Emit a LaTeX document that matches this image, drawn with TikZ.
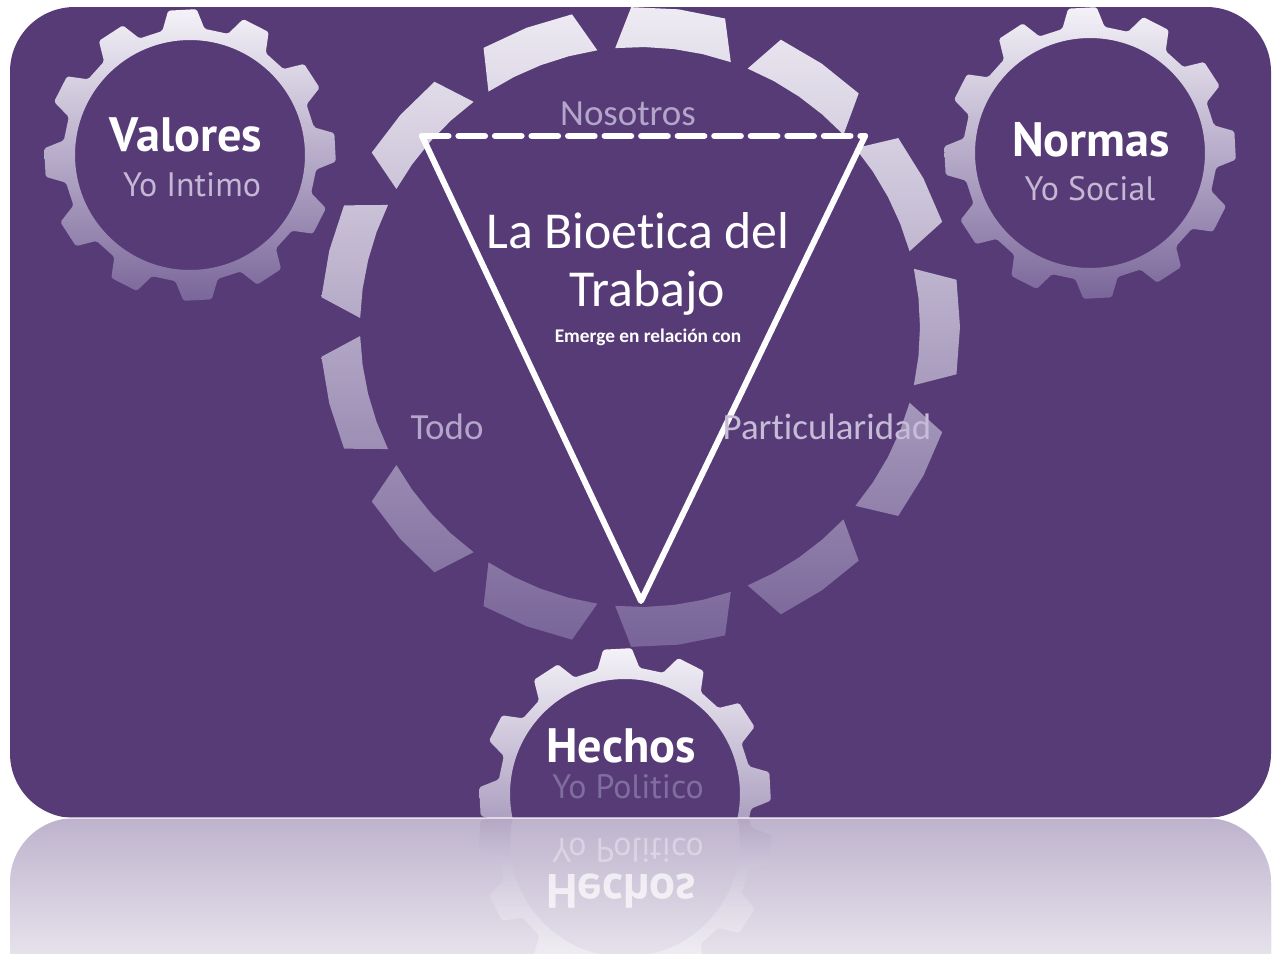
\documentclass[tikz,border=0pt]{standalone}
\usepackage{fontspec}
\setmainfont{Carlito}[Ligatures=NoCommon]
\newfontfamily\gearfont{PT Sans}
\usetikzlibrary{fadings}
\definecolor{boxpurple}{RGB}{87,59,119}
\definecolor{geartop}{RGB}{244,242,248}
\definecolor{gearbot}{RGB}{122,102,154}
\definecolor{bigtop}{RGB}{238,235,243}
\definecolor{bigbot}{RGB}{120,100,152}
\definecolor{sublabel}{RGB}{196,184,213}
\definecolor{midlabel}{RGB}{180,166,202}
\definecolor{partlabel}{RGB}{198,188,215}
\definecolor{dimlabel}{RGB}{127,110,158}
\definecolor{reflbase}{RGB}{190,179,205}
\tikzfading[name=reflfade, top color=transparent!100, bottom color=transparent!35]

\newcommand\cogwheelat[4]{%
  \shade[even odd rule, top color=#3, bottom color=#4, shift={(#1,#2)}, rounded corners=1pt]
    ({-3-9.6}:127) \foreach \k in {0,...,11}{ -- ({-3+30*\k-9.6}:127) -- ({-3+30*\k-5.6}:146) -- ({-3+30*\k+5.6}:146) -- ({-3+30*\k+9.6}:127) } -- cycle
    (0,0) circle[radius=115];}

\begin{document}
\begin{tikzpicture}[x=0.02cm, y=-0.02cm,
  gtitle/.style={font=\gearfont\bfseries\fontsize{27.5}{30}\selectfont, text=white, inner sep=0pt, anchor=base},
  gsub/.style={font=\gearfont\fontsize{19.3}{22}\selectfont, text=sublabel, inner sep=0pt, anchor=base},
  ctitle/.style={font=\fontsize{29.5}{32}\selectfont, text=white, inner sep=0pt, anchor=base},
  csmall/.style={font=\bfseries\fontsize{11}{13}\selectfont, text=white, inner sep=0pt, anchor=base},
  clabel/.style={font=\fontsize{21}{24}\selectfont, text=midlabel, inner sep=0pt, anchor=base},
  triside/.style={white, line width=3.4pt, line join=round, line cap=round},
  tritop/.style={white, line width=3.6pt, line cap=round, dash pattern=on 15pt off 5.8pt}]

\useasboundingbox (0,0) rectangle (1272,954);
\fill[white] (0,0) rectangle (1272,954);

% main purple panel
\fill[boxpurple, rounded corners=36.8pt] (10,7) rectangle (1271,818);

% big central gear (teeth only)
\shade[top color=bigtop, bottom color=bigbot, shift={(640,327)}]
  \foreach \k [evaluate=\k as \a using 27.6923*\k] in {0,...,12}{
    ({\a-12}:280) -- ({\a-6}:280) -- (\a:280) -- ({\a+6}:280) -- ({\a+12}:280)
    -- ({\a+8.5}:320) -- (\a:320) -- ({\a-8.5}:320) -- cycle };

% small gears
\cogwheelat{190}{155}{geartop}{gearbot}
\cogwheelat{1090}{153}{geartop}{gearbot}
\begin{scope}
  \clip (0,0) rectangle (1272,818);
  \cogwheelat{625}{794}{geartop}{gearbot}
\end{scope}

% triangle
\coordinate (tl) at (422,136);
\coordinate (tr) at (865,136);
\coordinate (bt) at (641,601);
\draw[triside] (tr) -- (bt) -- (tl);
\draw[tritop] (tl) -- (tr);

% texts
\node[gtitle] (valores) at (186,151) {Valores};
\node[gsub] (yointimo) at (192,196) {Yo Intimo};
\node[gtitle] (normas) at (1091,156) {Normas};
\node[gsub] (yosocial) at (1090,200) {Yo Social};
\node[gtitle] (hechos) at (621,762) {Hechos};
\node[gsub, text=dimlabel] (yopolitico) at (628,798) {Yo Politico};

\node[ctitle] (bio1) at (638,248) {La Bioetica del};
\node[ctitle] (bio2) at (647,306) {Trabajo};
\node[csmall] (emerge) at (648,342) {Emerge en relación con};
\node[clabel] (nosotros) at (628,125) {Nosotros};
\node[clabel] (todo) at (447,439) {Todo};
\node[clabel, text=partlabel] (partic) at (827,439) {Particularidad};

% reflection
\begin{scope}
  \clip[rounded corners=36.8pt] (10,818) rectangle (1271,1629);
  \fill[reflbase] (0,818) rectangle (1272,960);
  \begin{scope}[shift={(0,1636)}, yscale=-1]
    \begin{scope}[opacity=0.6]
      \cogwheelat{625}{794}{gearbot}{geartop}
    \end{scope}
    \node[gtitle, transform shape, opacity=0.7] (hechosrefl) at (621,762) {Hechos};
    \node[gsub, transform shape, text=white, opacity=0.35] (yopolrefl) at (628,798) {Yo Politico};
  \end{scope}
  \fill[white, path fading=reflfade] (0,818) rectangle (1272,960);
\end{scope}
\draw[white, opacity=0.6, line width=0.6pt] (60,818) -- (1220,818);

\end{tikzpicture}
\end{document}
